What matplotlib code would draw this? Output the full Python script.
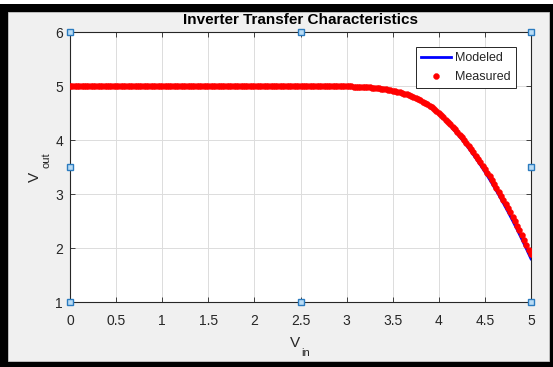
import numpy as np
import matplotlib
matplotlib.use("Agg")
import matplotlib.pyplot as plt
from matplotlib.patches import Rectangle

plt.rcParams["font.family"] = ["Liberation Sans", "DejaVu Sans"]

# ---- data -------------------------------------------------------------
x_ticks = [0, 0.5, 1, 1.5, 2, 2.5, 3, 3.5, 4, 4.5, 5]
x_tick_labels = ["0", "0.5", "1", "1.5", "2", "2.5", "3", "3.5", "4", "4.5", "5"]
y_ticks = [1, 2, 3, 4, 5, 6]
y_tick_labels = ["1", "2", "3", "4", "5", "6"]

# measured sweep: Vin = 0 ... 5 V in 25 mV steps
measured_vin = np.linspace(0.0, 5.0, 201)
measured_vout = [5.0] * 109 + [
    5.000, 4.999, 4.999, 4.999, 4.998, 4.998, 4.997, 4.997, 4.996, 4.995, 4.994,
    4.993, 4.992, 4.991, 4.990, 4.988, 4.986, 4.984, 4.982, 4.980, 4.977,
    4.974, 4.971, 4.967, 4.963, 4.958, 4.953, 4.947, 4.940, 4.933, 4.925,
    4.916, 4.907, 4.896, 4.885, 4.872, 4.859, 4.844, 4.828, 4.812, 4.794,
    4.774, 4.754, 4.732, 4.709, 4.684, 4.659, 4.631, 4.602, 4.572, 4.538,
    4.500, 4.461, 4.420, 4.378, 4.335, 4.291, 4.245, 4.197, 4.149, 4.099,
    4.048, 3.995, 3.941, 3.885, 3.829, 3.771, 3.711, 3.650, 3.588, 3.525,
    3.460, 3.394, 3.326, 3.257, 3.187, 3.116, 3.043, 2.968, 2.893, 2.816,
    2.738, 2.658, 2.577, 2.494, 2.411, 2.326, 2.239, 2.151, 2.062, 1.972,
    1.880,
]

# model curve
modeled_vin = np.concatenate([[0.0], np.linspace(3.0, 5.0, 41)])
modeled_vout = [
    5.000,
    4.993, 4.991, 4.988, 4.984, 4.979, 4.973, 4.966, 4.957, 4.945, 4.930,
    4.911, 4.890, 4.865, 4.836, 4.802, 4.762, 4.718, 4.668, 4.613, 4.551,
    4.475, 4.393, 4.306, 4.214, 4.116, 4.013, 3.903, 3.788, 3.667, 3.541,
    3.410, 3.273, 3.131, 2.984, 2.831, 2.673, 2.509, 2.340, 2.165, 1.985,
    1.800,
]

# ---- figure -----------------------------------------------------------
W, H = 553, 367
fig = plt.figure(figsize=(W / 100, H / 100), dpi=100)
fig.patch.set_facecolor("white")
fig.patches.append(Rectangle((0, 0), 1, 363 / H, transform=fig.transFigure,
                             facecolor="black", edgecolor="none", zorder=-10))
fig.patches.append(Rectangle((8 / W, 6 / H), 541 / W, 349 / H,
                             transform=fig.transFigure, facecolor="#f0f0f0",
                             edgecolor="#c8c8c8", linewidth=0.6, zorder=-9))

ax = fig.add_axes([70 / W, 65 / H, 461 / W, 270 / H])
ax.set_facecolor("white")

ax.plot(modeled_vin, modeled_vout, color="blue", linewidth=2.0, label="Modeled",
        zorder=3)
ax.plot(measured_vin, measured_vout, linestyle="none", marker="o",
        markersize=4.3, markerfacecolor="red", markeredgecolor="red",
        markeredgewidth=0.3, label="Measured", zorder=4)

ax.set_xlim(0, 5)
ax.set_ylim(1, 6)
ax.set_xticks(x_ticks)
ax.set_xticklabels(x_tick_labels)
ax.set_yticks(y_ticks)
ax.set_yticklabels(y_tick_labels)

axis_col = "#262626"
ax.tick_params(direction="in", length=3.3, width=0.6, colors=axis_col,
               labelsize=10, top=True, right=True)
ax.tick_params(axis="x", pad=8.5)
ax.tick_params(axis="y", pad=5.0)
for s in ax.spines.values():
    s.set_color(axis_col)
    s.set_linewidth(0.8)
ax.grid(True, color="#dcdcdc", linewidth=0.7)
ax.set_axisbelow(True)

ax.set_title("Inverter Transfer Characteristics", fontsize=11,
             fontweight="bold", color="black", pad=6)

# axis labels with lowered subscripts
fig.text(290 / W, 1 - 346.7 / H, "V", fontsize=11, color=axis_col,
         ha="left", va="baseline")
fig.text(301.5 / W, 1 - 356 / H, "in", fontsize=8, color=axis_col,
         ha="left", va="baseline")
fig.text(39 / W, 1 - 182 / H, "V", fontsize=11, color=axis_col, rotation=90,
         rotation_mode="anchor", ha="left", va="baseline")
fig.text(49.5 / W, 1 - 168 / H, "out", fontsize=8, color=axis_col, rotation=90,
         rotation_mode="anchor", ha="left", va="baseline")

leg = ax.legend(loc="upper right", bbox_to_anchor=(0.9675, 0.9444),
                borderaxespad=0, fontsize=9, frameon=True, fancybox=False,
                framealpha=1, edgecolor=axis_col, handlelength=2.4,
                handletextpad=0.35, borderpad=0.4, labelspacing=0.55,
                markerscale=1.0)
leg.get_frame().set_linewidth(0.7)
for t in leg.get_texts():
    t.set_color(axis_col)

# selection handles on the axes box
hx = [0, 0.5, 1, 0, 1, 0, 0.5, 1]
hy = [1, 1, 1, 0.5, 0.5, 0, 0, 0]
ax.plot(hx, hy, linestyle="none", marker="s", markersize=5,
        markerfacecolor="#b9dcf5", markeredgecolor="#2b7bbf",
        markeredgewidth=1.0, transform=ax.transAxes, clip_on=False, zorder=10)

fig.savefig("out.png", dpi=100)
